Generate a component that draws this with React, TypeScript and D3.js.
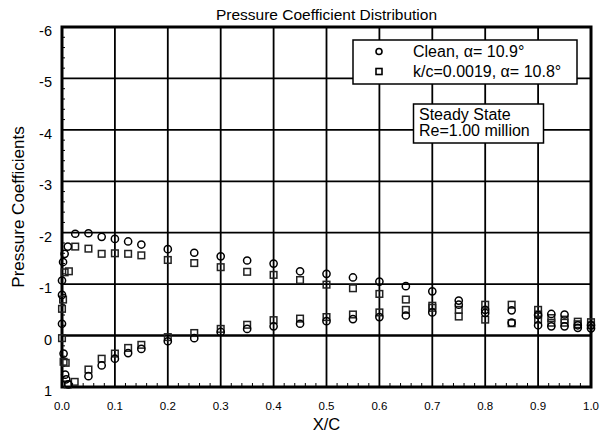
import React from 'react';
import * as d3 from 'd3';

// chord positions and pressure coefficients
const cleanX = [0, 0, 0, 0.002, 0.005, 0.011, 0.025, 0.05, 0.075, 0.1, 0.125, 0.15, 0.2, 0.25, 0.3, 0.35, 0.4, 0.45, 0.5, 0.55, 0.6, 0.65, 0.7, 0.75, 0.8, 0.85, 0.9, 0.925, 0.95, 0.975, 1.0,
  0.003, 0.006, 0.008, 0.012, 0.05, 0.075, 0.1, 0.125, 0.15, 0.2, 0.25, 0.3, 0.35, 0.4, 0.45, 0.5, 0.55, 0.6, 0.65, 0.7, 0.75, 0.8, 0.85, 0.9, 0.925, 0.95, 0.975, 1.0];
const cleanCp = [-0.23, -0.79, -1.07, -1.43, -1.59, -1.73, -1.98, -1.99, -1.92, -1.88, -1.83, -1.77, -1.68, -1.61, -1.54, -1.46, -1.4, -1.25, -1.2, -1.13, -1.05, -0.96, -0.86, -0.68, -0.5, -0.49, -0.4, -0.42, -0.41, -0.2, -0.2,
  0.35, 0.76, 0.85, 0.95, 0.79, 0.58, 0.45, 0.34, 0.26, 0.11, 0.05, -0.07, -0.13, -0.18, -0.23, -0.28, -0.32, -0.36, -0.39, -0.45, -0.6, -0.44, -0.25, -0.2, -0.18, -0.18, -0.15, -0.14];

const roughX = [0, 0, 0.002, 0.005, 0.013, 0.025, 0.05, 0.075, 0.1, 0.125, 0.15, 0.2, 0.25, 0.3, 0.35, 0.4, 0.45, 0.5, 0.55, 0.6, 0.65, 0.7, 0.75, 0.8, 0.85, 0.9, 0.9, 0.925, 0.95, 0.975, 1.0,
  0.003, 0.007, 0.011, 0.024, 0.05, 0.075, 0.1, 0.125, 0.15, 0.2, 0.25, 0.3, 0.35, 0.4, 0.45, 0.5, 0.55, 0.6, 0.65, 0.7, 0.75, 0.8, 0.85, 0.9, 0.925, 0.95, 0.975, 1.0];
const roughCp = [0.05, -0.52, -0.7, -1.23, -1.25, -1.73, -1.69, -1.59, -1.6, -1.59, -1.56, -1.47, -1.41, -1.33, -1.24, -1.18, -1.08, -0.99, -0.92, -0.81, -0.7, -0.58, -0.5, -0.6, -0.6, -0.5, -0.41, -0.34, -0.31, -0.27, -0.26,
  0.51, 0.53, 0.95, 0.9, 0.66, 0.45, 0.35, 0.24, 0.18, 0.03, -0.05, -0.13, -0.21, -0.3, -0.33, -0.36, -0.41, -0.45, -0.5, -0.54, -0.37, -0.31, -0.24, -0.31, -0.25, -0.25, -0.22, -0.2];

const xTicks = [0, 0.1, 0.2, 0.3, 0.4, 0.5, 0.6, 0.7, 0.8, 0.9, 1.0];
const yTicks = [-6, -5, -4, -3, -2, -1, 0, 1];
const legendLabels = ['Clean, \u03b1= 10.9\u00b0', 'k/c=0.0019, \u03b1= 10.8\u00b0'];
const noteLines = ['Steady State', 'Re=1.00 million'];

const W = 605;
const H = 437;
const font = 'Liberation Sans, Arial, sans-serif';

export default function App() {
  const x = d3.scaleLinear().domain([0, 1]).range([62, 591]);
  const y = d3.scaleLinear().domain([-6, 1]).range([27, 387]);

  const xMinor = d3.range(0, 1.0001, 0.02).filter((v) => Math.abs(v * 10 - Math.round(v * 10)) > 1e-6);
  const yMinor = d3.range(-6, 1.0001, 0.2).filter((v) => Math.abs(v - Math.round(v)) > 1e-6);

  const [x0, x1] = x.range();
  const [y0, y1] = y.range();

  return (
    <svg width={W} height={H} style={{position: 'absolute', left: 0, top: 0, background: '#fff'}}
      fontFamily={font}>
      <text x={(x0 + x1) / 2} y={20} textAnchor="middle" fontSize={15.5}>Pressure Coefficient Distribution</text>

      {/* grid */}
      {xTicks.slice(1, -1).map((t) => (
        <line key={'gx' + t} x1={x(t)} x2={x(t)} y1={y0} y2={y1} stroke="#000" strokeWidth={1.8} />
      ))}
      {yTicks.slice(1, -1).map((t) => (
        <line key={'gy' + t} x1={x0} x2={x1} y1={y(t)} y2={y(t)} stroke="#000" strokeWidth={t === 0 ? 2.6 : 1.8} />
      ))}

      {/* minor ticks */}
      {xMinor.map((t) => (
        <line key={'mx' + t} x1={x(t)} x2={x(t)} y1={y1} y2={y1 - 4} stroke="#000" strokeWidth={1} />
      ))}
      {yMinor.map((t) => (
        <line key={'my' + t} x1={x0} x2={x0 + 3} y1={y(t)} y2={y(t)} stroke="#000" strokeWidth={1} />
      ))}

      <rect x={x0} y={y0} width={x1 - x0} height={y1 - y0} fill="none" stroke="#000" strokeWidth={3} />

      {/* tick labels */}
      {xTicks.map((t) => (
        <text key={'lx' + t} x={x(t)} y={410} textAnchor="middle" fontSize={11.5}>{t.toFixed(1)}</text>
      ))}
      {yTicks.map((t) => (
        <text key={'ly' + t} x={52} y={y(t) + 9} textAnchor="end" fontSize={14.5}>{t}</text>
      ))}

      <text x={(x0 + x1) / 2} y={430} textAnchor="middle" fontSize={16.5}>X/C</text>
      <text transform={`translate(24,${(y0 + y1) / 2}) rotate(-90)`} textAnchor="middle" fontSize={17}>Pressure Coefficients</text>

      {/* data */}
      {roughX.map((v, i) => (
        <rect key={'r' + i} x={x(v) - 3.3} y={y(roughCp[i]) - 3.3} width={6.6} height={6.6}
          fill="none" stroke="#222" strokeWidth={1.5} />
      ))}
      {cleanX.map((v, i) => (
        <circle key={'c' + i} cx={x(v)} cy={y(cleanCp[i])} r={3.6} fill="none" stroke="#000" strokeWidth={1.5} />
      ))}

      {/* legend */}
      <rect x={353} y={40} width={224} height={44} fill="#fff" stroke="#000" strokeWidth={1.5} />
      <circle cx={379} cy={51.5} r={3} fill="none" stroke="#000" strokeWidth={1.6} />
      <rect x={376} y={68.5} width={6} height={6} fill="none" stroke="#000" strokeWidth={1.6} />
      {legendLabels.map((l, i) => (
        <text key={l} x={413} y={57 + i * 20} fontSize={16}>{l}</text>
      ))}

      <rect x={413.5} y={104} width={130} height={39} fill="#fff" stroke="#000" strokeWidth={1.5} />
      {noteLines.map((l, i) => (
        <text key={l} x={419} y={120 + i * 16} fontSize={16}>{l}</text>
      ))}
    </svg>
  );
}
